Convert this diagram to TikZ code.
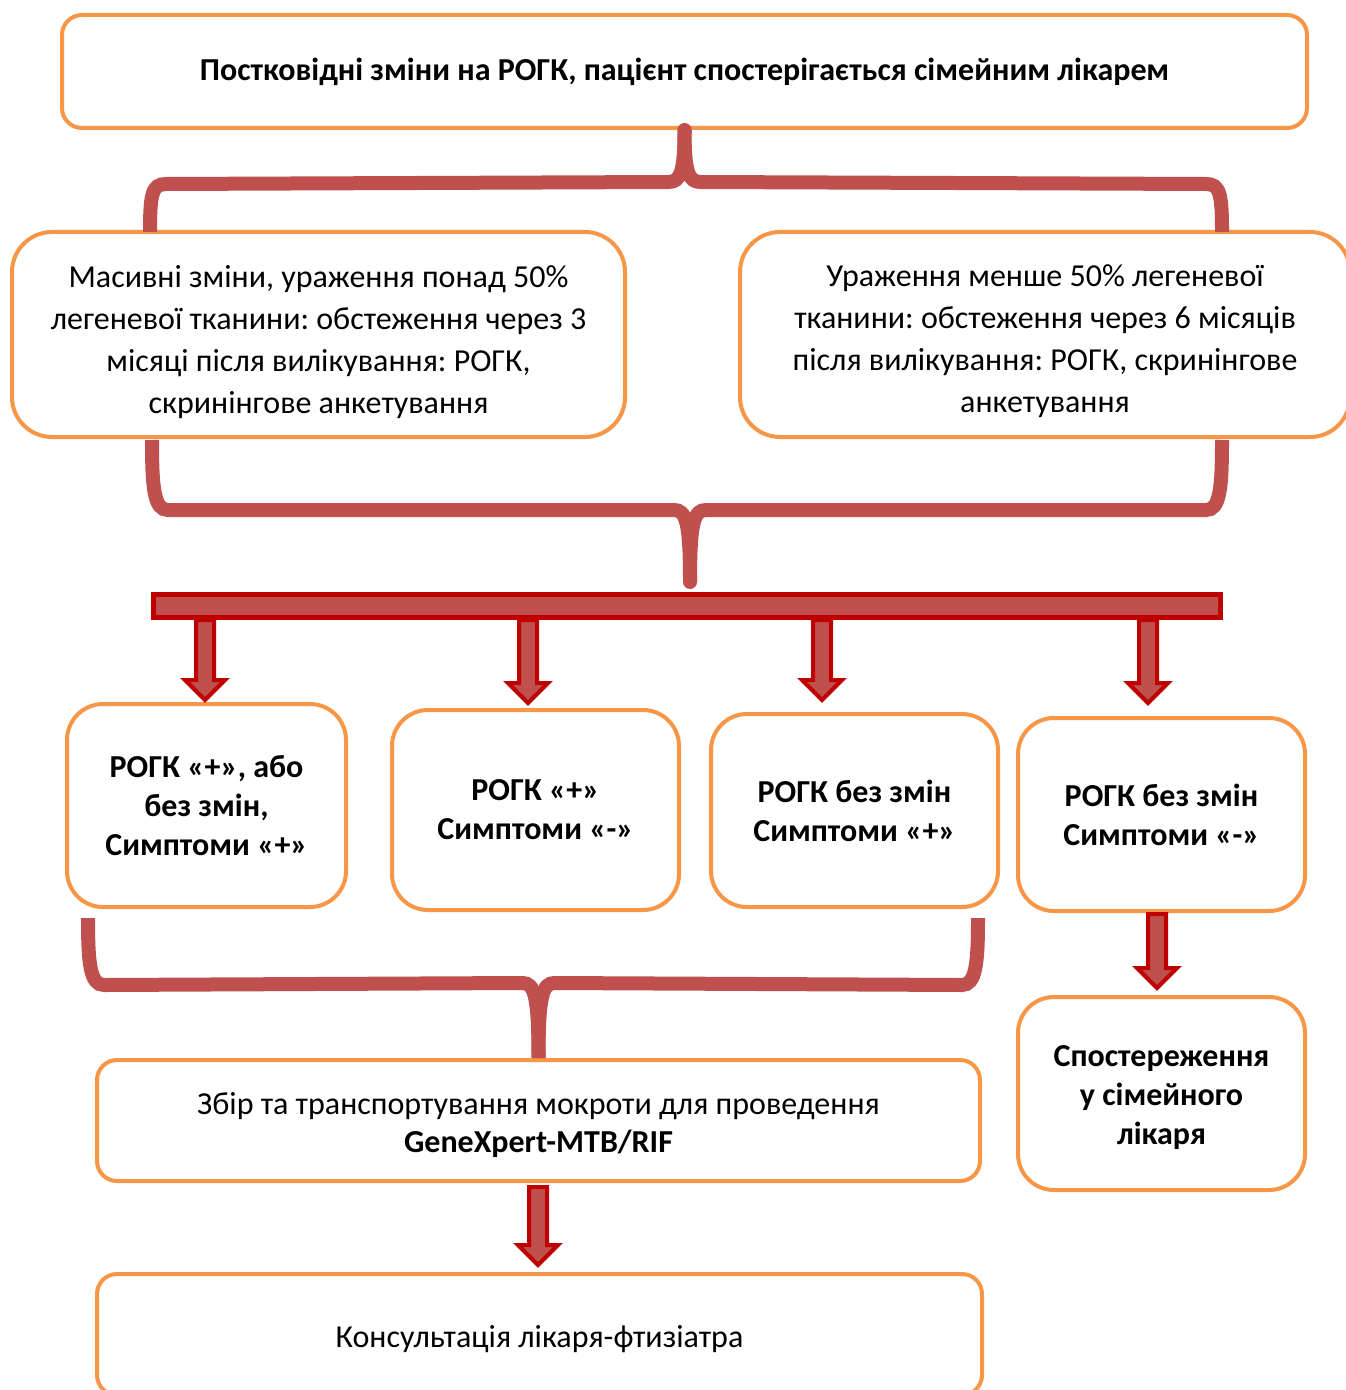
\documentclass[tikz,border=0pt]{standalone}
\usepackage{fontspec}
\setmainfont{Carlito}
\usepackage{tikz}
\usetikzlibrary{calc}
\frenchspacing

\definecolor{boxorange}{HTML}{F79646}
\definecolor{bracered}{HTML}{C0504D}
\definecolor{darkred}{HTML}{C00000}

\newdimen\px
\px=0.5pt

\tikzset{
  box/.style={draw=boxorange, line width=2pt, fill=white, align=center, inner sep=0pt},
  bigtext/.style={font=\fontsize{16pt}{21pt}\selectfont},
  boldtext/.style={font=\fontsize{16pt}{19.5pt}\selectfont\bfseries},
  curly/.style={draw=bracered, line width=7pt, line cap=butt},
  fatarr/.style={draw=darkred, line width=2pt, fill=bracered, line join=miter}
}

% block arrow pointing down from #1 to #2
\newcommand{\fatarrow}[2]{%
  \draw[fatarr] let \p1=#1, \p2=#2 in
    (\x1-9\px,\y1) -- (\x1+9\px,\y1) -- (\x1+9\px,\y2+20\px) -- (\x1+20\px,\y2+20\px)
    -- (\x1,\y2) -- (\x1-20\px,\y2+20\px) -- (\x1-9\px,\y2+20\px) -- cycle;}

\begin{document}
\begin{tikzpicture}[x=0.5pt, y=-0.5pt]
\useasboundingbox (0,0) rectangle (1345,1390);

% Draws the boxes
\node[box, boldtext, rounded corners=10pt, minimum width=1245\px, minimum height=113\px] (top) at (684.5,71.5)
  {Постковідні зміни на РОГК, пацієнт спостерігається сімейним лікарем};
\node[box, rounded corners=20pt, minimum width=613\px, minimum height=205\px] (lbox) at (318.5,334.5) {};
\node[bigtext, align=center] at (318.5,342)
  {Масивні зміни, ураження понад 50\%\\легеневої тканини: обстеження через 3\\місяці після вилікування: РОГК,\\скринінгове анкетування};
\node[box, rounded corners=20pt, minimum width=610\px, minimum height=205\px] (rbox) at (1045,334.5) {};
\node[bigtext, align=center] at (1045,341)
  {Ураження менше 50\% легеневої\\тканини: обстеження через 6 місяців\\після вилікування: РОГК, скринінгове\\анкетування};

\node[box, boldtext, rounded corners=18pt, minimum width=279\px, minimum height=203\px] (b1) at (206.5,805.5)
  {РОГК «+», або\\без змін,\\Симптоми «+»};
\node[box, boldtext, rounded corners=18pt, minimum width=287\px, minimum height=200\px] (b2) at (535.5,810)
  {РОГК «+»\\Симптоми «-»};
\node[box, boldtext, rounded corners=18pt, minimum width=287\px, minimum height=193\px] (b3) at (854.5,810.5)
  {РОГК без змін\\Симптоми «+»};
\node[box, boldtext, rounded corners=18pt, minimum width=287\px, minimum height=193\px] (b4) at (1161.5,814.5)
  {РОГК без змін\\Симптоми «-»};

\node[box, font=\fontsize{16pt}{19pt}\selectfont, rounded corners=10pt, minimum width=883\px, minimum height=121\px] (sbir) at (538.5,1120.5) {};
\node[font=\fontsize{16pt}{19pt}\selectfont, align=center] at (538.5,1124.5)
  {Збір та транспортування мокроти для проведення\\\textbf{GeneXpert-MTB/RIF}};
\node[box, rounded corners=18pt, minimum width=287\px, minimum height=193\px] (sposter) at (1161.5,1093.5) {};
\node[boldtext, align=center] at (1161.5,1097.5)
  {Спостереження\\у сімейного\\лікаря};
\node[box, rounded corners=10pt, minimum width=885\px, minimum height=121\px] (kons) at (539.5,1334.5) {};
\node[font=\fontsize{16pt}{19pt}\selectfont] at (539.5,1339.5)
  {Консультація лікаря-фтизіатра};

% The wide bar below the second brace
\node[draw=darkred, line width=2.5pt, fill=bracered, inner sep=0pt, minimum width=1067\px, minimum height=23\px] (bar) at (686.5,606) {};

% Brace ends
\coordinate (t1) at (150,232);
\coordinate (t2) at (1222,232);
\coordinate (m1) at (152,440);
\coordinate (m2) at (1222,440);
\coordinate (m3) at (690,582);
\coordinate (u1) at (88,918);
\coordinate (u2) at (978,918);

% Draws the brace under the first box
\draw[curly] (t1) .. controls ($(t1)+(0,-38)$) and ($(t1)+(2,-48)$) .. ($(t1)+(16,-48)$)
  -- ($(top.south)+(-16,52)$) .. controls ($(top.south)+(-4,52)$) and ($(top.south)+(0,42)$) .. (top.south);
\draw[curly] (t2) .. controls ($(t2)+(0,-38)$) and ($(t2)+(-2,-48)$) .. ($(t2)+(-16,-48)$)
  -- ($(top.south)+(16,52)$) .. controls ($(top.south)+(4,52)$) and ($(top.south)+(0,42)$) .. (top.south);
\fill[bracered] (top.south) circle (3.5pt);

% Draws the brace under the two boxes
\draw[curly] (m1) .. controls ($(m1)+(0,48)$) and ($(m1)+(2,70)$) .. ($(m1)+(16,70)$)
  -- ($(m3)+(-16,-72)$) .. controls ($(m3)+(-4,-72)$) and ($(m3)+(0,-60)$) .. (m3);
\draw[curly] (m2) .. controls ($(m2)+(0,48)$) and ($(m2)+(-2,70)$) .. ($(m2)+(-16,70)$)
  -- ($(m3)+(16,-72)$) .. controls ($(m3)+(4,-72)$) and ($(m3)+(0,-60)$) .. (m3);
\fill[bracered] (m3) circle (3.5pt);

% Draws the brace under the first three boxes of the row
\draw[curly] (u1) .. controls ($(u1)+(0,45)$) and ($(u1)+(2,67)$) .. ($(u1)+(16,67)$)
  -- ($(sbir.north)+(-16,-75)$) .. controls ($(sbir.north)+(-4,-75)$) and ($(sbir.north)+(0,-62)$) .. (sbir.north);
\draw[curly] (u2) .. controls ($(u2)+(0,45)$) and ($(u2)+(-2,67)$) .. ($(u2)+(-16,67)$)
  -- ($(sbir.north)+(16,-75)$) .. controls ($(sbir.north)+(4,-75)$) and ($(sbir.north)+(0,-62)$) .. (sbir.north);

% Arrow positions
\coordinate (a1) at (205,0);
\coordinate (a2) at (528,0);
\coordinate (a3) at (822,0);
\coordinate (a4) at (1148,0);
\coordinate (a5) at (1157,0);
\coordinate (a6) at (538,0);

% Draws the block arrows
\fatarrow{(bar.south -| a1)}{($(b1.north -| a1)+(0,-2)$)}
\fatarrow{(bar.south -| a2)}{($(b2.north -| a2)+(0,-5)$)}
\fatarrow{(bar.south -| a3)}{($(b3.north -| a3)+(0,-12)$)}
\fatarrow{(bar.south -| a4)}{($(b4.north -| a4)+(0,-13)$)}
\fatarrow{($(b4.south -| a5)+(0,1)$)}{($(sposter.north -| a5)+(0,-7)$)}
\fatarrow{($(sbir.south -| a6)+(0,4)$)}{($(kons.north -| a6)+(0,-7)$)}

\end{tikzpicture}
\end{document}
